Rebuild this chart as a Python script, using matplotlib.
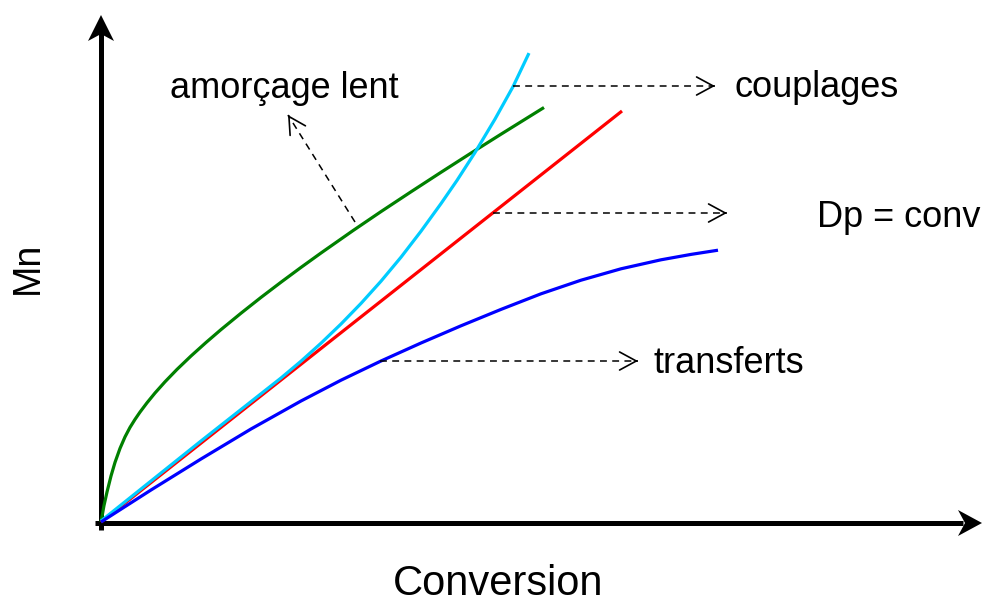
import matplotlib
matplotlib.use('Agg')
from matplotlib import pyplot as plt
from matplotlib.patches import Polygon

plt.rcParams['font.family'] = ['Liberation Sans', 'DejaVu Sans']

# curves (x = conversion, y = Mn), arbitrary units measured from origin
green_x = [0, 3, 6, 10, 14, 19, 24, 29, 34, 39, 46, 54, 64, 76, 90, 105, 120, 140,
           160, 180, 200, 220, 252, 280, 310, 340, 370, 400, 443]
green_y = [0, 16.5, 30, 46, 59.6, 73.6, 85.1, 94.6, 102.6, 109.9, 119.2, 129, 140.2,
           152.6, 166, 179.5, 192.4, 208.8, 224.6, 239.8, 254.6, 269, 291.4, 310.4,
           330.2, 349.7, 368.9, 387.8, 414.5]

cyan_x = [0, 100, 180, 200, 220, 240, 260, 280, 300, 320, 340, 356, 374, 394, 412, 428]
cyan_y = [1, 81, 144, 160.8, 178.8, 198, 218.6, 240.8, 264.8, 290.8, 318.4, 341.6,
          369.5, 402.9, 435.3, 468.9]

red_x = [0, 521]
red_y = [0, 411]

blue_x = [0, 50, 100, 150, 200, 240, 280, 320, 360, 400, 440, 480, 520, 560, 590, 617]
blue_y = [0, 32, 63, 93, 121, 141.8, 161, 179, 196.2, 212.6, 228.2, 241.8, 253.2,
          262.2, 267.6, 271.8]

# labels with their dashed pointers
labels = ['amorçage lent', 'couplages', 'Dp = conv', 'transferts']
arrow_start = [(254, 300), (412, 436), (392, 309), (279, 161)]
arrow_end = [(187, 407), (614, 436), (626, 309), (537, 161)]
text_pos = [(69, 424), (634, 425), (716, 295), (552, 149)]

fig = plt.figure(figsize=(9.84, 6.06), dpi=100)
ax = fig.add_axes([0, 0, 1, 1])
ax.set_xlim(-101, 883)
ax.set_ylim(-84, 522)
ax.axis('off')

# axes lines + notched arrow heads
ax.plot([-6, 862], [-1, -1], color='black', lw=3.6, solid_capstyle='butt')
ax.plot([0, 0], [-8, 490], color='black', lw=3.6, solid_capstyle='butt')
ax.add_patch(Polygon([(881, -1), (857, 12), (864, -1), (857, -14)], closed=True,
                     color='black', lw=0))
ax.add_patch(Polygon([(0, 507), (-13, 481), (0, 488), (13, 481)], closed=True,
                     color='black', lw=0))

ax.plot(green_x, green_y, color='#008000', lw=2.3, solid_capstyle='butt')
ax.plot(red_x, red_y, color='#ff0000', lw=2.3, solid_capstyle='butt')
ax.plot(cyan_x, cyan_y, color='#00ccff', lw=2.3, solid_capstyle='butt')
ax.plot(blue_x, blue_y, color='#0000ff', lw=2.3, solid_capstyle='butt')

# dashed pointers with open heads
for s, e in zip(arrow_start, arrow_end):
    ax.plot([s[0], e[0]], [s[1], e[1]], color='black', lw=1.1, dashes=(4.5, 3.5))
    dx = (e[0] - s[0]) * 0.01
    dy = (e[1] - s[1]) * 0.01
    ax.annotate('', xy=e, xytext=(e[0] - dx, e[1] - dy),
                arrowprops=dict(arrowstyle='->,head_length=1.2,head_width=0.65',
                                color='black', lw=1.2, shrinkA=0, shrinkB=0))

for txt, pos in zip(labels, text_pos):
    ax.text(pos[0], pos[1], txt, fontsize=26, ha='left', va='baseline')

ax.text(-73, 254, 'Mn', fontsize=27, rotation=90, ha='center', va='center')
ax.text(397, -73, 'Conversion', fontsize=30, ha='center', va='baseline')

plt.savefig('out.png', dpi=100)
